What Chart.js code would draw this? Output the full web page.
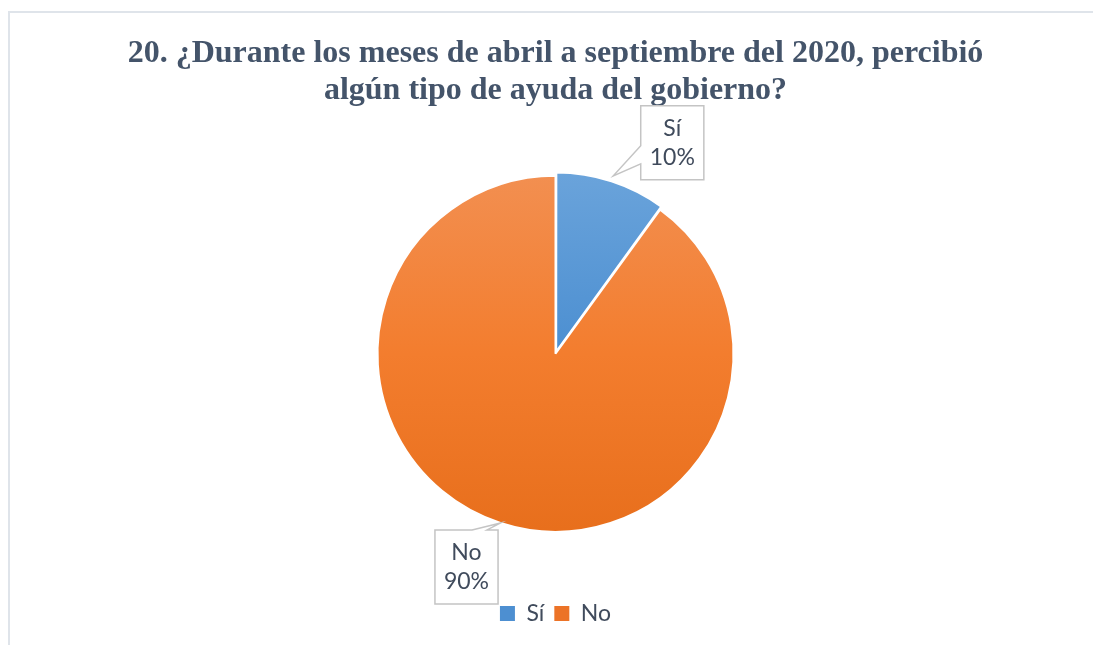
<!DOCTYPE html>
<html lang="es">
<head>
<meta charset="utf-8">
<title>Ayuda del gobierno</title>
<script src="https://cdn.jsdelivr.net/npm/chart.js@4.4.1/dist/chart.umd.min.js"></script>
<style>
  html, body { margin: 0; padding: 0; background: #fff; }
  body { width: 1093px; height: 645px; position: relative; overflow: hidden; }
  .marco { position: absolute; left: 8px; top: 11px; width: 1200px; height: 800px;
           border-top: 2px solid #dfe4ea; border-left: 2px solid #dfe4ea; }
  #wrap { position: absolute; left: 0; top: 0; width: 1093px; height: 645px; }
</style>
</head>
<body>
<div class="marco"></div>
<div id="wrap"><canvas id="grafico"></canvas></div>
<script>
// Datos
const categorias = ['Sí', 'No'];
const porcentajes = [10, 90];
const tituloLineas = [
  '20. ¿Durante los meses de abril a septiembre del 2020, percibió',
  'algún tipo de ayuda del gobierno?'
];

// Estilo
const colorTexto = '#404b5c';
const colorTitulo = '#44546a';
const degradados = [
  ['#74aade', '#4c8fd1', '#3b7fc5'],
  ['#f2955c', '#f37d2e', '#e46a16']
];
const coloresLeyenda = ['#4d8fd1', '#ec7327'];
const fuenteEtiqueta = '23px Lato';

// degradado vertical sobre el area del pastel
function relleno(ctx) {
  const area = ctx.chart.chartArea;
  const s = degradados[ctx.dataIndex];
  if (!area) return s[1];
  const g = ctx.chart.ctx.createLinearGradient(0, area.top, 0, area.bottom);
  g.addColorStop(0, s[0]);
  g.addColorStop(0.5, s[1]);
  g.addColorStop(1, s[2]);
  return g;
}

// etiquetas tipo "globo" con puntero hacia la porcion
const desplazamientos = [[59, -33], [-34, 44]];
const etiquetas = {
  id: 'etiquetas',
  afterDatasetsDraw(chart) {
    const c = chart.ctx;
    const meta = chart.getDatasetMeta(0);
    meta.data.forEach((arc, i) => {
      const p = arc.getProps(['x', 'y', 'startAngle', 'endAngle', 'outerRadius'], true);
      const medio = (p.startAngle + p.endAngle) / 2;
      const r = p.outerRadius + (arc.options.offset || 0);
      const tx = p.x + Math.cos(medio) * r;
      const ty = p.y + Math.sin(medio) * r;

      const lineas = [categorias[i], porcentajes[i] + '%'];
      c.save();
      c.font = fuenteEtiqueta;
      const ancho = Math.max(...lineas.map(t => c.measureText(t).width)) + 18;
      const alto = 74;
      const cx = tx + desplazamientos[i][0];
      const cy = ty + desplazamientos[i][1];
      const L = cx - ancho / 2, R = cx + ancho / 2, T = cy - alto / 2, B = cy + alto / 2;

      c.beginPath();
      if (tx < L) {
        // puntero en el lado izquierdo
        const y1 = Math.max(T + 4, Math.min(ty, B) - 30);
        c.moveTo(L, T); c.lineTo(R, T); c.lineTo(R, B); c.lineTo(L, B);
        c.lineTo(L, y1 + 18); c.lineTo(tx, ty); c.lineTo(L, y1);
      } else {
        // puntero en el borde superior
        const x1 = Math.min(tx, R) - 26;
        c.moveTo(L, T); c.lineTo(x1, T); c.lineTo(tx, ty); c.lineTo(x1 + 15, T);
        c.lineTo(R, T); c.lineTo(R, B); c.lineTo(L, B);
      }
      c.closePath();
      c.fillStyle = '#fff';
      c.fill();
      c.lineWidth = 1.5;
      c.strokeStyle = '#c4c4c4';
      c.stroke();

      c.fillStyle = colorTexto;
      c.textAlign = 'center';
      c.textBaseline = 'middle';
      c.fillText(lineas[0], cx, cy - 14);
      c.fillText(lineas[1], cx, cy + 15);
      c.restore();
    });
  }
};

new Chart(document.getElementById('grafico'), {
  type: 'pie',
  data: {
    labels: categorias,
    datasets: [{
      data: porcentajes,
      backgroundColor: relleno,
      borderColor: '#ffffff',
      borderWidth: 2,
      offset: [9, 0],
      radius: 178
    }]
  },
  options: {
    responsive: true,
    maintainAspectRatio: false,
    animation: false,
    layout: { padding: { top: 14, left: 20, right: 2, bottom: 10 } },
    plugins: {
      title: {
        display: true,
        text: tituloLineas,
        color: colorTitulo,
        font: { family: '"Liberation Serif", "Times New Roman", serif', size: 32, weight: 'bold', lineHeight: 1.13 },
        padding: { top: 22, bottom: 7 }
      },
      legend: {
        position: 'bottom',
        labels: {
          color: colorTexto,
          font: { family: 'Lato', size: 23 },
          boxWidth: 15,
          boxHeight: 15,
          padding: 10,
          generateLabels: (chart) => categorias.map((t, i) => ({
            text: t, fillStyle: coloresLeyenda[i], strokeStyle: coloresLeyenda[i],
            lineWidth: 0, index: i, hidden: false, fontColor: colorTexto
          }))
        }
      },
      tooltip: { enabled: false }
    }
  },
  plugins: [etiquetas]
});
</script>
</body>
</html>
